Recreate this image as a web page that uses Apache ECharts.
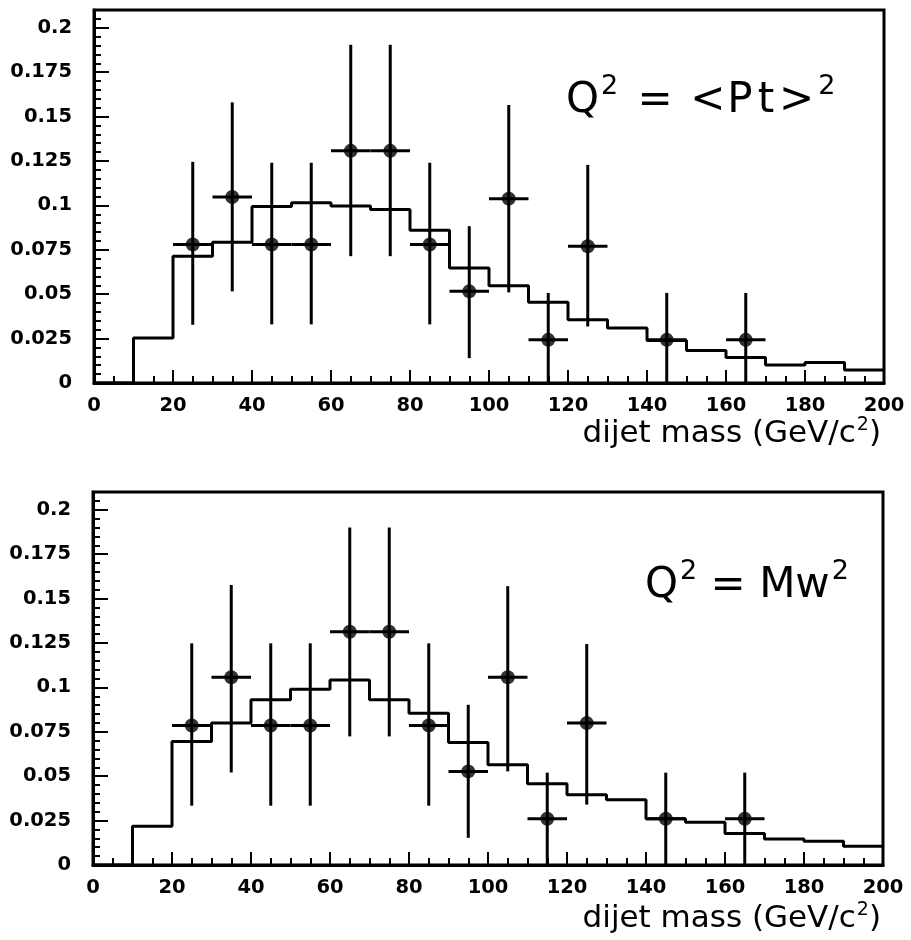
<!DOCTYPE html>
<html>
<head>
<meta charset="utf-8">
<script src="https://cdn.jsdelivr.net/npm/echarts@6/dist/echarts.min.js"></script>
<style>html,body{margin:0;padding:0;background:#fff}#c{width:911px;height:940px}</style>
</head>
<body>
<div id="c"></div>
<script>
// ---- data ----
const binEdges = [0,10,20,30,40,50,60,70,80,90,100,110,120,130,140,150,160,170,180,190];
const binUpper = 200;
const mcTop = [0,0.0253,0.0714,0.0793,0.0993,0.1015,0.0996,0.0977,0.086,0.0648,0.0548,0.0454,0.0356,0.0309,0.0239,0.0183,0.0143,0.0102,0.0115,0.0073];
const mcBot = [0,0.0218,0.0696,0.0799,0.093,0.099,0.1042,0.093,0.0855,0.069,0.0565,0.0458,0.0396,0.0368,0.026,0.024,0.0177,0.0147,0.0134,0.0106];

const massCenters = [25,35,45,55,65,75,85,95,105,115,125,145,165];
const halfBin = [5,5,5,5,5,5,5,5,5,5,5,5,5];
const dataTop  = [0.078,0.1047,0.078,0.078,0.1307,0.1307,0.078,0.0516,0.1038,0.0243,0.077,0.0243,0.0243];
const errHiTop = [0.1245,0.158,0.124,0.124,0.1904,0.1904,0.124,0.0883,0.1565,0.0507,0.1228,0.0507,0.0507];
const errLoTop = [0.0328,0.0516,0.033,0.033,0.0714,0.0714,0.033,0.014,0.051,0,0.0318,0,0];
const dataBot  = [0.0785,0.1057,0.0785,0.0785,0.1313,0.1313,0.0785,0.0527,0.1057,0.026,0.0799,0.026,0.026];
const errHiBot = [0.1248,0.1576,0.1248,0.1248,0.19,0.19,0.1248,0.0902,0.157,0.052,0.1244,0.052,0.052];
const errLoBot = [0.0334,0.0521,0.0334,0.0334,0.0724,0.0724,0.0334,0.0153,0.0527,0,0.034,0,0];

const xTicks = [0,20,40,60,80,100,120,140,160,180,200];
const yTicks = ['0','0.025','0.05','0.075','0.1','0.125','0.15','0.175','0.2'];
// rich-text strings (superscripts as {s|2})
const xTitle = '{b|dijet mass (GeV/c}{s|2}{b|)}';
const labelTop = '{b|Q}{s|2}{e| = }{l|<}{p|P}{t|t}{g|>}{u|2}';
const labelBot = '{b|Q}{s|2}{b| = }{b|Mw}{s|2}';

// ---- build ----
function histData(vals){
  const d = binEdges.map((e,i)=>[e, vals[i]]);
  d.push([binUpper, vals[vals.length-1]]);
  return d;
}
function errData(y, lo, hi){
  return massCenters.map((x,i)=>[x, y[i], lo[i], hi[i], halfBin[i]]);
}
function renderErr(params, api){
  const x = api.value(0), y = api.value(1), lo = api.value(2), hi = api.value(3), hw = api.value(4);
  const a = api.coord([x, lo]), b = api.coord([x, hi]);
  const l = api.coord([x-hw, y]), r = api.coord([x+hw, y]);
  const st = {stroke:'#000', lineWidth:3};
  return {type:'group', children:[
    {type:'line', shape:{x1:a[0],y1:a[1],x2:b[0],y2:b[1]}, style:st},
    {type:'line', shape:{x1:l[0],y1:l[1],x2:r[0],y2:r[1]}, style:st}
  ]};
}
const labelFont = {fontFamily:'DejaVu Sans', fontWeight:'bold', color:'#000'};
function xAxisCfg(gi){
  return {type:'value', gridIndex:gi, min:0, max:200, interval:20,
    axisLine:{show:true, lineStyle:{color:'#000', width:3}},
    axisTick:{show:true, inside:true, length:13, lineStyle:{color:'#000', width:2}},
    minorTick:{show:true, splitNumber:4, length:7, lineStyle:{color:'#000', width:2}},
    splitLine:{show:false}, minorSplitLine:{show:false},
    axisLabel:Object.assign({fontSize:19.5, margin:13, formatter:(v)=> xTicks.indexOf(v)>=0 ? String(v) : ''}, labelFont)
  };
}
function yAxisCfg(gi){
  return [{type:'value', gridIndex:gi, position:'left', min:0, max:0.21, interval:0.025,
    axisLine:{show:true, onZero:false, lineStyle:{color:'#000', width:3}},
    axisTick:{show:true, inside:true, length:15, lineStyle:{color:'#000', width:2}},
    splitLine:{show:false},
    axisLabel:Object.assign({fontSize:19.5, margin:22, showMaxLabel:false,
      formatter:(v)=>{ const i = Math.round(v/0.025); return Math.abs(v - i*0.025) < 1e-9 && i < yTicks.length ? yTicks[i] : ''; }}, labelFont)
  },{type:'value', gridIndex:gi, position:'left', min:0, max:0.21, interval:0.005,
    axisLine:{show:false}, axisLabel:{show:false}, splitLine:{show:false},
    axisTick:{show:true, inside:true, length:7, lineStyle:{color:'#000', width:2}}
  }];
}
function panelSeries(xi, yi, mc, y, lo, hi){
  return [
    {type:'line', xAxisIndex:xi, yAxisIndex:yi, data:histData(mc), step:'end', symbol:'none',
      lineStyle:{color:'#000', width:3}, z:2, animation:false},
    {type:'custom', xAxisIndex:xi, yAxisIndex:yi, data:errData(y,lo,hi), renderItem:renderErr,
      encode:{x:0, y:1}, z:3, animation:false},
    {type:'scatter', xAxisIndex:xi, yAxisIndex:yi, data:massCenters.map((x,i)=>[x,y[i]]),
      symbol:'circle', symbolSize:14, itemStyle:{color:'#000'}, z:4, animation:false}
  ];
}
const F = 'DejaVu Sans';
function bigRich(){
  const base = {fontFamily:F, fontSize:42, lineHeight:60, color:'#000'};
  const sup = {fontFamily:F, fontSize:27, lineHeight:30, verticalAlign:'top', color:'#000', padding:[2,0,0,2]};
  return {
    b: base,
    e: Object.assign({}, base, {padding:[0,0,0,6]}),
    s: sup,
    l: Object.assign({}, base, {padding:[0,0,0,4]}),
    p: Object.assign({}, base, {padding:[0,0,0,2]}),
    t: Object.assign({}, base, {padding:[0,0,0,5]}),
    g: Object.assign({}, base, {padding:[0,0,0,5]}),
    u: Object.assign({}, sup, {padding:[2,0,0,4]})
  };
}
function titleRich(){
  return {
    b:{fontFamily:F, fontSize:31, lineHeight:40, color:'#000'},
    s:{fontFamily:F, fontSize:19, lineHeight:22, verticalAlign:'top', color:'#000', padding:[2,0,0,1]}
  };
}
const chart = echarts.init(document.getElementById('c'), null, {renderer:'canvas'});
chart.setOption({
  animation:false,
  backgroundColor:'#fff',
  grid:[
    {left:94, top:10, width:790, height:373, show:true, borderColor:'#000', borderWidth:3, backgroundColor:'transparent'},
    {left:93, top:492, width:790, height:373, show:true, borderColor:'#000', borderWidth:3, backgroundColor:'transparent'}
  ],
  xAxis:[xAxisCfg(0), xAxisCfg(1)],
  yAxis:[].concat(yAxisCfg(0), yAxisCfg(1)),
  series:[].concat(
    panelSeries(0, 0, mcTop, dataTop, errLoTop, errHiTop),
    panelSeries(1, 2, mcBot, dataBot, errLoBot, errHiBot)
  ),
  graphic:[
    {type:'text', right:30, top:414, style:{text:xTitle, rich:titleRich()}},
    {type:'text', right:30, top:899, style:{text:xTitle, rich:titleRich()}},
    {type:'text', left:566, top:71, style:{text:labelTop, rich:bigRich()}},
    {type:'text', left:645, top:556, style:{text:labelBot, rich:bigRich()}}
  ]
});
</script>
</body>
</html>
